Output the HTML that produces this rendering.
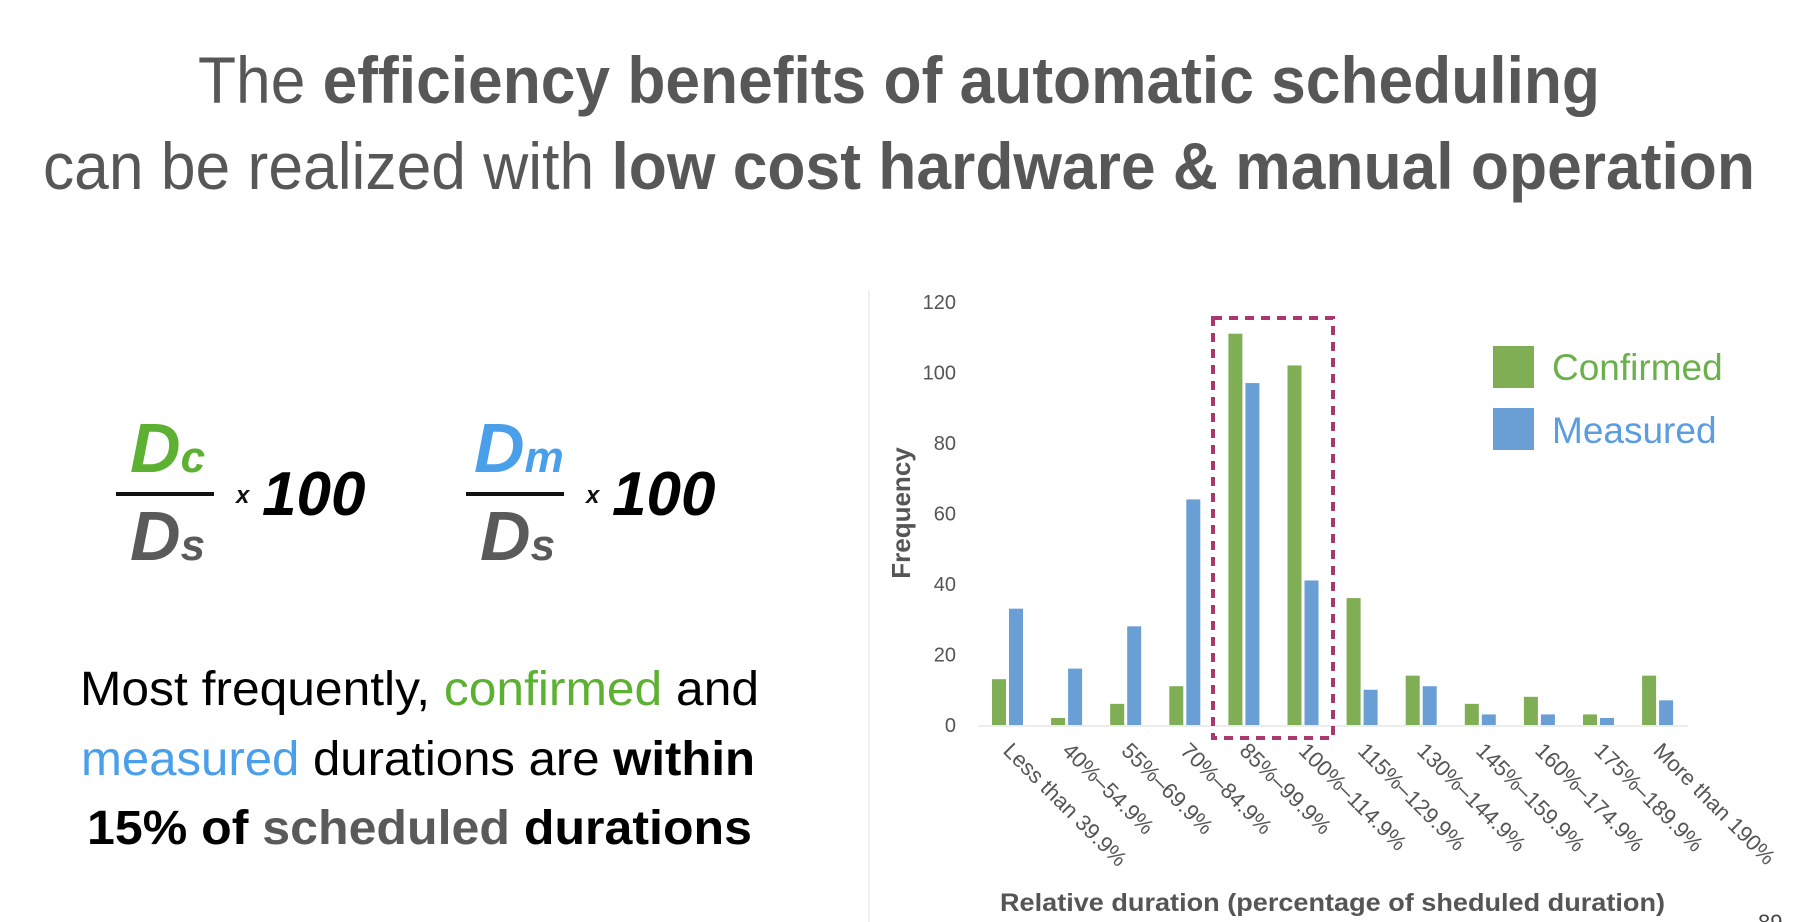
<!DOCTYPE html>
<html><head><meta charset="utf-8">
<style>
html,body{margin:0;padding:0;background:#fff;}
svg{display:block;font-family:"Liberation Sans",Arial,sans-serif;}
</style></head>
<body>
<svg id="slide" width="1794" height="922" viewBox="0 0 1794 922" xmlns="http://www.w3.org/2000/svg">
  <g fill="#575757" font-size="66">
    <text x="198" y="103" textLength="1402" lengthAdjust="spacingAndGlyphs">The <tspan font-weight="bold">efficiency benefits of automatic scheduling</tspan></text>
    <text x="43" y="189" textLength="1712" lengthAdjust="spacingAndGlyphs">can be realized with <tspan font-weight="bold">low cost hardware &amp; manual operation</tspan></text>
  </g>

  <g font-weight="bold" font-style="italic">
    <text x="130" y="472" font-size="70" fill="#5cb032">D<tspan font-size="44">c</tspan></text>
    <rect x="116" y="492" width="98" height="4" fill="#111"/>
    <text x="130" y="560" font-size="70" fill="#5a5a5a">D<tspan font-size="44">s</tspan></text>
    <text x="236" y="503" font-size="24" fill="#111">x</text>
    <text x="262" y="515" font-size="62" fill="#000">100</text>
  </g>
  <g font-weight="bold" font-style="italic">
    <text x="474" y="472" font-size="70" fill="#4a9fea">D<tspan font-size="44">m</tspan></text>
    <rect x="466" y="492" width="98" height="4" fill="#111"/>
    <text x="480" y="560" font-size="70" fill="#5a5a5a">D<tspan font-size="44">s</tspan></text>
    <text x="586" y="503" font-size="24" fill="#111">x</text>
    <text x="612" y="515" font-size="62" fill="#000">100</text>
  </g>

  <g font-size="48" fill="#000">
    <text x="80" y="705" textLength="679" lengthAdjust="spacingAndGlyphs">Most frequently, <tspan fill="#5cb032">confirmed</tspan> and</text>
    <text x="81" y="775" textLength="674" lengthAdjust="spacingAndGlyphs"><tspan fill="#4a9fea">measured</tspan> durations are <tspan font-weight="bold">within</tspan></text>
    <text x="87" y="844" font-weight="bold" textLength="665" lengthAdjust="spacingAndGlyphs">15% of <tspan fill="#5a5a5a">scheduled</tspan> durations</text>
  </g>

  <line x1="869" y1="290" x2="869" y2="922" stroke="#f0f0f0" stroke-width="2"/>
  <g id="chart"></g>
  <text x="1758" y="930" font-size="22" fill="#444">89</text>
</svg>
<script>
const categories = ["Less than 39.9%","40%–54.9%","55%–69.9%","70%–84.9%","85%–99.9%","100%–114.9%","115%–129.9%","130%–144.9%","145%–159.9%","160%–174.9%","175%–189.9%","More than 190%"];
const confirmed = [13,2,6,11,111,102,36,14,6,8,3,14];
const measured = [33,16,28,64,97,41,10,11,3,3,2,7];
const yTicks = [0,20,40,60,80,100,120];

const NS = "http://www.w3.org/2000/svg";
const g = document.getElementById('chart');
const x0 = 978, x1 = 1688, yBase = 725, yTop = 302, yMax = 120;
const step = 59.1, firstGroup = 992, barW = 14, gap = 17;
function yScale(v){ return yBase - (v / yMax) * (yBase - yTop); }
function xScale(i){ return firstGroup + i * step; }
function mk(tag, attrs){ const e = document.createElementNS(NS, tag); for (const k in attrs) e.setAttribute(k, attrs[k]); g.appendChild(e); return e; }

yTicks.forEach(t => {
  const e = mk('text', {x: 956, y: yScale(t) + 7, 'font-size': 20, fill: '#555', 'text-anchor': 'end'});
  
  
  e.textContent = t;
});
const ax = mk('line', {x1: x0, y1: yBase + 1, x2: x1, y2: yBase + 1, stroke: '#ececec', 'stroke-width': 2});



categories.forEach((c, i) => {
  const bx = xScale(i);
  const r1 = mk('rect', {x: bx, y: yScale(confirmed[i]), width: barW, height: yBase - yScale(confirmed[i]), fill: '#7fae55'});
  
  
  const r2 = mk('rect', {x: bx + gap, y: yScale(measured[i]), width: barW, height: yBase - yScale(measured[i]), fill: '#6a9fd6'});
  
  
  const lx = bx + 10, ly = 752;
  const t = mk('text', {x: lx, y: ly, 'font-size': 22, fill: '#555', transform: `rotate(45 ${lx} ${ly})`});
  
  
  t.textContent = c;
});

const hb = mk('rect', {x: 1213, y: 318, width: 120, height: 420, fill: 'none', stroke: '#a8386e', 'stroke-width': 4, 'stroke-dasharray': '9 7'});



const yt = mk('text', {x: 910, y: 513, 'font-size': 26, 'font-weight': 'bold', fill: '#555', 'text-anchor': 'middle', transform: 'rotate(-90 910 513)'});


yt.textContent = 'Frequency';
const xt = mk('text', {x: 1000, y: 911, 'font-size': 25, 'font-weight': 'bold', fill: '#555', textLength: 665, lengthAdjust: 'spacingAndGlyphs'});


xt.textContent = 'Relative duration (percentage of sheduled duration)';

const l1 = mk('rect', {x: 1493, y: 346, width: 41, height: 42, fill: '#7fae55'});


const lt1 = mk('text', {x: 1552, y: 380, 'font-size': 37, fill: '#6ab04c'});


lt1.textContent = 'Confirmed';
const l2 = mk('rect', {x: 1493, y: 408, width: 41, height: 42, fill: '#6a9fd6'});


const lt2 = mk('text', {x: 1552, y: 443, 'font-size': 37, fill: '#5b9de0'});


lt2.textContent = 'Measured';
</script>
</body></html>
